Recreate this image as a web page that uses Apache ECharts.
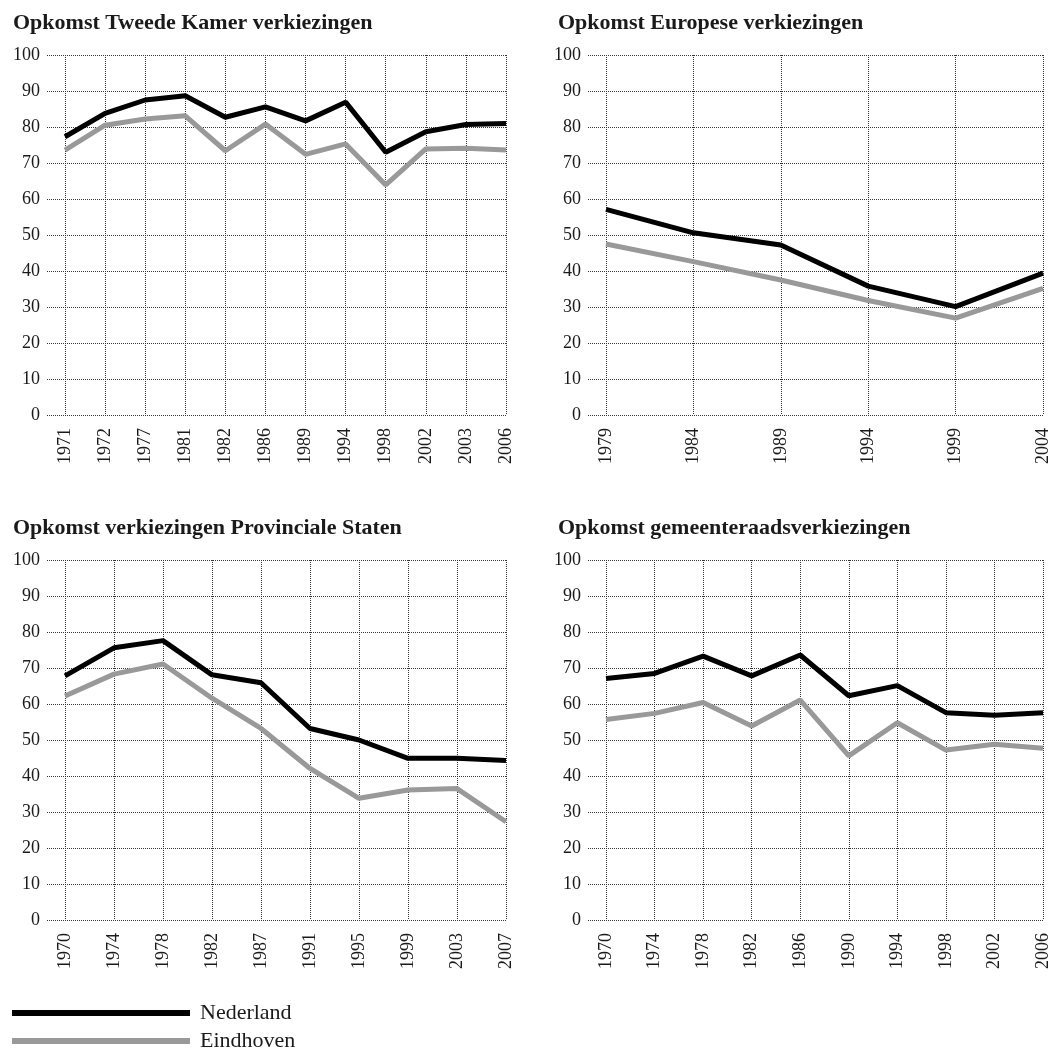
<!DOCTYPE html>
<html>
<head>
<meta charset="utf-8">
<script src="https://cdn.jsdelivr.net/npm/echarts@6/dist/echarts.min.js"></script>
<style>
  html, body { margin: 0; padding: 0; background: #fff; }
  #chart { width: 1055px; height: 1050px; }
</style>
</head>
<body>
<div id="chart"></div>
<script>
// tick labels for the y axes
var yMin = 0, yMax = 100, yStep = 10;

// Tweede Kamer
var tkYears = ['1971', '1972', '1977', '1981', '1982', '1986', '1989', '1994', '1998', '2002', '2003', '2006'];
var tkNederland = [77.3, 83.8, 87.5, 88.7, 82.7, 85.6, 81.7, 86.9, 73.0, 78.7, 80.7, 81.0];
var tkEindhoven = [73.6, 80.5, 82.2, 83.1, 73.4, 80.8, 72.4, 75.3, 63.9, 73.9, 74.1, 73.6];

// Europees
var euYears = ['1979', '1984', '1989', '1994', '1999', '2004'];
var euNederland = [57.1, 50.6, 47.2, 35.8, 30.1, 39.4];
var euEindhoven = [47.5, 42.6, 37.5, 31.8, 26.9, 35.2];

// Provinciale Staten
var psYears = ['1970', '1974', '1978', '1982', '1987', '1991', '1995', '1999', '2003', '2007'];
var psNederland = [67.8, 75.6, 77.6, 68.1, 65.9, 53.2, 50.0, 44.9, 44.9, 44.3];
var psEindhoven = [62.2, 68.3, 71.1, 61.6, 53.2, 42.1, 33.8, 36.1, 36.5, 27.3];

// Gemeenteraad
var grYears = ['1970', '1974', '1978', '1982', '1986', '1990', '1994', '1998', '2002', '2006'];
var grNederland = [67.1, 68.5, 73.3, 67.8, 73.6, 62.3, 65.1, 57.6, 56.9, 57.6];
var grEindhoven = [55.7, 57.4, 60.4, 53.9, 61.1, 45.6, 54.8, 47.2, 48.8, 47.7];

var panels = [
  { title: 'Opkomst Tweede Kamer verkiezingen', years: tkYears, nl: tkNederland, ehv: tkEindhoven,
    titleLeft: 8, titleTop: 7, top: 55, lineLeft: 47, dataLeft: 65, right: 549 },
  { title: 'Opkomst Europese verkiezingen', years: euYears, nl: euNederland, ehv: euEindhoven,
    titleLeft: 553, titleTop: 7, top: 55, lineLeft: 588, dataLeft: 606, right: 12 },
  { title: 'Opkomst verkiezingen Provinciale Staten', years: psYears, nl: psNederland, ehv: psEindhoven,
    titleLeft: 8, titleTop: 512, top: 560, lineLeft: 47, dataLeft: 65, right: 549 },
  { title: 'Opkomst gemeenteraadsverkiezingen', years: grYears, nl: grNederland, ehv: grEindhoven,
    titleLeft: 553, titleTop: 512, top: 560, lineLeft: 588, dataLeft: 606, right: 12 }
];

var FONT = 'Liberation Serif';
var TEXT = '#1a1a1a';
var dotted = { show: true, lineStyle: { type: 'dotted', color: '#333', width: 1 } };

var titles = [], grids = [], xAxes = [], yAxes = [], series = [];

panels.forEach(function (p, i) {
  titles.push({
    text: p.title, left: p.titleLeft, top: p.titleTop,
    textStyle: { fontFamily: FONT, fontSize: 22, fontWeight: 'bold', color: TEXT }
  });

  // grid with the horizontal lines and y labels
  grids.push({ left: p.lineLeft, right: p.right, top: p.top, height: 360 });
  xAxes.push({ gridIndex: 2 * i, type: 'value', min: 0, max: 1, show: false });
  yAxes.push({
    gridIndex: 2 * i, type: 'value', min: yMin, max: yMax, interval: yStep,
    axisLine: { show: false }, axisTick: { show: false },
    axisLabel: { margin: 7, fontFamily: FONT, fontSize: 18, color: TEXT },
    splitLine: dotted
  });

  // grid with the years and the data
  grids.push({ left: p.dataLeft, right: p.right, top: p.top, height: 360 });
  xAxes.push({
    gridIndex: 2 * i + 1, type: 'category', data: p.years, boundaryGap: false,
    axisLine: { show: false }, axisTick: { show: false },
    axisLabel: { interval: 0, rotate: 90, margin: 13, fontFamily: FONT, fontSize: 18, color: TEXT },
    splitLine: dotted
  });
  yAxes.push({ gridIndex: 2 * i + 1, type: 'value', min: yMin, max: yMax, show: false, splitLine: { show: false } });

  series.push({
    name: 'Nederland', type: 'line', xAxisIndex: 2 * i + 1, yAxisIndex: 2 * i + 1,
    data: p.nl, symbol: 'none', itemStyle: { color: '#000' },
    lineStyle: { color: '#000', width: 5 }
  });
  series.push({
    name: 'Eindhoven', type: 'line', xAxisIndex: 2 * i + 1, yAxisIndex: 2 * i + 1,
    data: p.ehv, symbol: 'none', itemStyle: { color: '#999' },
    lineStyle: { color: '#999', width: 5 }
  });
});

function legendRow(name, top) {
  return {
    left: 12, top: top, padding: 0,
    icon: 'rect', itemWidth: 178, itemHeight: 6,
    data: [name],
    textStyle: { fontFamily: FONT, fontSize: 22, color: TEXT, padding: [0, 0, 0, 5] }
  };
}

var chart = echarts.init(document.getElementById('chart'));
chart.setOption({
  backgroundColor: '#fff',
  animation: false,
  title: titles,
  legend: [legendRow('Nederland', 1002), legendRow('Eindhoven', 1030)],
  grid: grids,
  xAxis: xAxes,
  yAxis: yAxes,
  series: series
});
</script>
</body>
</html>
